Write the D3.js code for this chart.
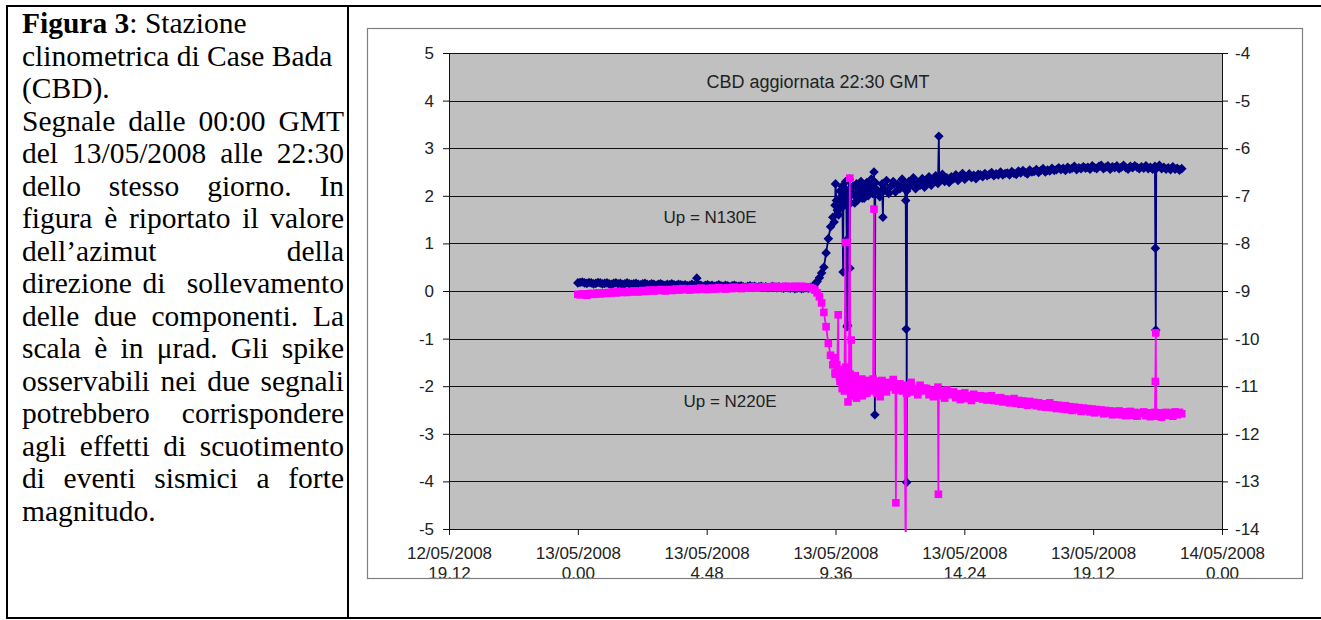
<!DOCTYPE html>
<html>
<head>
<meta charset="utf-8">
<title>CBD clinometro</title>
<script src="https://cdn.jsdelivr.net/npm/d3@7"></script>
<style>
    body {
        margin: 0;
        padding: 0;
        width: 1321px;
        height: 620px;
        background: #fff;
        overflow: hidden;
    }

    #chart {
        position: absolute;
        left: 0;
        top: 0;
    }

    #caption {
        position: absolute;
        left: 22px;
        top: 7px;
        width: 322px;
        font-family: "Liberation Serif", "Times New Roman", serif;
        font-size: 29.5px;
        line-height: 32.5px;
        color: #000;
    }

    #caption div {
        white-space: nowrap;
    }

    #caption .j {
        text-align: justify;
        text-align-last: justify;
        white-space: normal;
    }

    svg text {
        font-family: "Liberation Sans", Arial, sans-serif;
        fill: #222;
    }
</style>
</head>
<body>
<svg id="chart" width="1321" height="620"></svg>
<div id="caption"></div>

<script>
    // ---- data (minutes from 13/05/2008 00:00 GMT) ----
    var baseStartMin = 0;
    var baseStepMin = 5;

    // Up = N130E, one value every 5 minutes (one row = one hour)
    var n130eValues = [
        0.17, 0.18, 0.19, 0.17, 0.16, 0.18, 0.17, 0.15, 0.16, 0.18, 0.17, 0.15,
        0.16, 0.17, 0.15, 0.14, 0.16, 0.17, 0.15, 0.16, 0.14, 0.15, 0.17, 0.15,
        0.14, 0.15, 0.16, 0.14, 0.13, 0.15, 0.16, 0.14, 0.13, 0.15, 0.14, 0.12,
        0.14, 0.15, 0.13, 0.12, 0.14, 0.13, 0.15, 0.13, 0.12, 0.14, 0.13, 0.12,
        0.13, 0.11, 0.12, 0.14, 0.12, 0.11, 0.13, 0.12, 0.10, 0.12, 0.13, 0.11,
        0.12, 0.10, 0.11, 0.13, 0.11, 0.10, 0.12, 0.11, 0.09, 0.11, 0.12, 0.10,
        0.10, 0.11, 0.09, 0.08, 0.10, 0.11, 0.09, 0.10, 0.08, 0.09, 0.10, 0.08,
        0.09, 0.07, 0.08, 0.10, 0.08, 0.07, 0.09, 0.07, 0.06, 0.08, 0.07, 0.06,
        0.07, 0.05, 0.06, 0.07, 0.05, 0.06, 0.07, 0.06, 0.08, 0.10, 0.14, 0.20,
        0.28, 0.38, 0.50, 0.80, 1.10, 1.35, 1.55, 1.80, 1.70, 1.95, 1.80, 2.05,
        1.92, 2.12, 1.85, 2.20, 2.00, 1.90, 2.18, 2.05, 1.95, 2.25, 2.02, 2.15,
        2.05, 2.28, 2.10, 1.98, 2.25, 2.12, 2.32, 2.05, 2.20, 2.30, 2.08, 2.24,
        2.15, 2.35, 2.20, 2.10, 2.30, 2.25, 2.38, 2.15, 2.28, 2.22, 2.36, 2.18,
        2.28, 2.40, 2.22, 2.35, 2.42, 2.26, 2.33, 2.45, 2.30, 2.38, 2.28, 2.40,
        2.36, 2.44, 2.32, 2.42, 2.47, 2.35, 2.40, 2.46, 2.38, 2.43, 2.36, 2.45,
        2.44, 2.40, 2.47, 2.42, 2.45, 2.49, 2.42, 2.46, 2.44, 2.50, 2.44, 2.47,
        2.48, 2.44, 2.51, 2.47, 2.45, 2.52, 2.48, 2.53, 2.49, 2.46, 2.54, 2.50,
        2.51, 2.55, 2.49, 2.53, 2.57, 2.50, 2.54, 2.52, 2.58, 2.53, 2.55, 2.59,
        2.55, 2.58, 2.53, 2.60, 2.56, 2.58, 2.62, 2.55, 2.59, 2.57, 2.61, 2.58,
        2.60, 2.56, 2.63, 2.59, 2.57, 2.62, 2.64, 2.57, 2.60, 2.63, 2.56, 2.61,
        2.59, 2.63, 2.57, 2.60, 2.64, 2.59, 2.56, 2.62, 2.59, 2.63, 2.60, 2.57,
        2.61, 2.58, 2.63, 2.57, 2.60, 2.56, 2.62, 2.59, 2.64, 2.57, 2.60, 2.56,
        2.59, 2.55, 2.61, 2.56, 2.58, 2.54, 2.57
    ];

    // Up = N220E, one value every 5 minutes (one row = one hour)
    var n220eValues = [
        -0.07, -0.08, -0.06, -0.07, -0.09, -0.06, -0.05, -0.07, -0.06, -0.04, -0.06, -0.05,
        -0.04, -0.05, -0.03, -0.04, -0.02, -0.04, -0.03, -0.01, -0.03, -0.02, -0.03, -0.01,
        -0.02, 0.00, -0.01, -0.02, 0.00, 0.01, -0.01, 0.00, 0.02, 0.01, 0.00, 0.02,
        0.01, 0.03, 0.02, 0.00, 0.02, 0.03, 0.01, 0.03, 0.04, 0.02, 0.03, 0.05,
        0.03, 0.04, 0.02, 0.05, 0.04, 0.03, 0.05, 0.06, 0.04, 0.05, 0.03, 0.05,
        0.06, 0.04, 0.05, 0.07, 0.05, 0.06, 0.04, 0.06, 0.07, 0.05, 0.08, 0.06,
        0.07, 0.05, 0.07, 0.08, 0.06, 0.07, 0.09, 0.07, 0.06, 0.08, 0.07, 0.09,
        0.08, 0.07, 0.09, 0.08, 0.10, 0.08, 0.07, 0.09, 0.08, 0.10, 0.09, 0.08,
        0.09, 0.10, 0.08, 0.09, 0.10, 0.08, 0.09, 0.08, 0.07, 0.05, 0.02, -0.04,
        -0.12, -0.25, -0.45, -0.75, -1.10, -1.35, -1.55, -1.72, -1.65, -1.80, -1.75, -1.85,
        -1.80, -1.98, -1.85, -2.05, -1.78, -1.95, -2.08, -1.85, -1.92, -2.10, -1.88, -1.98,
        -1.85, -2.05, -1.90, -2.10, -1.88, -1.98, -2.12, -1.92, -2.02, -1.86, -2.08, -1.95,
        -1.95, -2.10, -1.98, -2.15, -2.02, -1.92, -2.12, -2.05, -2.18, -1.98, -2.10, -2.04,
        -2.05, -2.18, -2.08, -2.22, -2.10, -2.02, -2.20, -2.12, -2.25, -2.08, -2.18, -2.14,
        -2.12, -2.24, -2.16, -2.28, -2.18, -2.14, -2.26, -2.20, -2.30, -2.17, -2.25, -2.22,
        -2.20, -2.27, -2.21, -2.29, -2.24, -2.20, -2.30, -2.25, -2.31, -2.24, -2.33, -2.27,
        -2.28, -2.35, -2.29, -2.26, -2.36, -2.30, -2.38, -2.31, -2.36, -2.40, -2.32, -2.38,
        -2.34, -2.41, -2.35, -2.43, -2.37, -2.44, -2.38, -2.35, -2.45, -2.39, -2.47, -2.40,
        -2.42, -2.48, -2.41, -2.49, -2.43, -2.51, -2.44, -2.49, -2.45, -2.53, -2.46, -2.51,
        -2.47, -2.54, -2.48, -2.56, -2.49, -2.54, -2.50, -2.58, -2.51, -2.56, -2.52, -2.60,
        -2.53, -2.59, -2.52, -2.60, -2.54, -2.62, -2.55, -2.53, -2.61, -2.55, -2.63, -2.56,
        -2.57, -2.54, -2.62, -2.56, -2.64, -2.57, -2.55, -2.63, -2.56, -2.65, -2.58, -2.55,
        -2.61, -2.56, -2.63, -2.54, -2.60, -2.55, -2.58
    ];

    // extra samples and spikes between the 5-minute values [minute, value]
    var n130eExtra = [
        [266, 0.27],
        [573, 1.45], [576, 2.25], [578, 1.90], [583, 1.60], [586, 2.10], [588, 1.75],
        [591, 2.20], [593, 0.40], [594, 1.95], [596, 1.80], [599, 2.30],
        [601, 1.07], [602, -0.75], [603, -0.72], [604, 1.90],
        [607, 2.35], [608, 0.48], [609, 2.00],
        [613, 2.05], [616, 2.20], [619, 1.85], [623, 2.25], [626, 2.00], [629, 2.15],
        [633, 2.30], [636, 1.95], [639, 2.20], [643, 2.10], [646, 2.28], [649, 2.00],
        [653, 2.20], [656, 2.35], [659, 2.05],
        [662, 2.50], [663, 2.10], [664, -2.60], [666, 2.15],
        [682, 1.55], [683, 2.15],
        [733, 1.90], [734, -0.80], [735, -4.02], [736, 2.15],
        [807, 3.25], [808, 2.33],
        [1291, 0.90], [1292, -0.82], [1293, 2.58]
    ];

    var n220eExtra = [
        [573, -1.40], [576, -1.75], [579, -1.55],
        [582, -0.50], [583, -1.70],
        [586, -1.90], [588, -1.65], [591, -2.05], [594, -1.80], [596, -2.10],
        [598, 1.02], [599, -1.60],
        [602, -1.90], [604, -2.33], [606, -2.00],
        [608, 2.37], [609, -1.75],
        [611, -1.03], [612, -2.20],
        [614, -1.85], [616, -2.10], [619, -1.95], [623, -2.25], [626, -1.90], [629, -2.05],
        [633, -1.95], [636, -2.20], [639, -1.90], [643, -2.00], [646, -2.15], [649, -1.95],
        [653, -2.05], [656, -1.90], [659, -2.10],
        [662, 1.72], [663, -1.90],
        [666, -2.00], [669, -2.15], [673, -1.95], [676, -2.22],
        [711, -4.45], [712, -2.00],
        [733, -5.60], [734, -2.05],
        [806, -4.27], [807, -2.10],
        [1291, -1.90], [1292, -0.88], [1293, -2.57]
    ];

    var leftTicks = [-5, -4, -3, -2, -1, 0, 1, 2, 3, 4, 5];
    var rightTicks = [-14, -13, -12, -11, -10, -9, -8, -7, -6, -5, -4];
    var xTickTimes = [
        "2008-05-12T19:12", "2008-05-13T00:00", "2008-05-13T04:48", "2008-05-13T09:36",
        "2008-05-13T14:24", "2008-05-13T19:12", "2008-05-14T00:00"
    ];

    var captionLines = [
        { html: "<b>Figura 3</b>: Stazione", justify: false },
        { html: "clinometrica di Case Bada", justify: false },
        { html: "(CBD).", justify: false },
        { html: "Segnale dalle 00:00 GMT", justify: true },
        { html: "del 13/05/2008 alle 22:30", justify: true },
        { html: "dello stesso giorno. In", justify: true },
        { html: "figura è riportato il valore", justify: true },
        { html: "dell’azimut della", justify: true },
        { html: "direzione di&nbsp; sollevamento", justify: true },
        { html: "delle due componenti. La", justify: true },
        { html: "scala è in μrad. Gli spike", justify: true },
        { html: "osservabili nei due segnali", justify: true },
        { html: "potrebbero corrispondere", justify: true },
        { html: "agli effetti di scuotimento", justify: true },
        { html: "di eventi sismici a forte", justify: true },
        { html: "magnitudo.", justify: false }
    ];

    // ---- caption ----
    d3.select("#caption").selectAll("div")
        .data(captionLines)
        .enter()
        .append("div")
        .attr("class", function(d) { return d.justify ? "j" : null; })
        .html(function(d) { return d.html; });

    // ---- layout ----
    var PLOT = { left: 449, top: 53, right: 1222, bottom: 529 };
    var START = Date.UTC(2008, 4, 13, 0, 0);

    function buildSeries(values, extra) {
        var pts = values.map(function(v, i) {
            return { t: new Date(START + (baseStartMin + i * baseStepMin) * 60000), v: v };
        });
        extra.forEach(function(s) {
            pts.push({ t: new Date(START + s[0] * 60000), v: s[1] });
        });
        pts.sort(function(a, b) { return a.t - b.t; });
        return pts;
    }

    var n130e = buildSeries(n130eValues, n130eExtra);
    var n220e = buildSeries(n220eValues, n220eExtra);

    var parseTime = d3.utcParse("%Y-%m-%dT%H:%M");
    var xTicks = xTickTimes.map(parseTime);

    var x = d3.scaleUtc()
        .domain([xTicks[0], xTicks[xTicks.length - 1]])
        .range([PLOT.left, PLOT.right]);
    var y = d3.scaleLinear().domain([-5, 5]).range([PLOT.bottom, PLOT.top]);
    var yRight = d3.scaleLinear().domain([-14, -4]).range([PLOT.bottom, PLOT.top]);

    var svg = d3.select("#chart");

    // page table lines
    var frame = svg.append("g").attr("stroke", "#000").attr("stroke-width", 2);
    frame.append("line").attr("x1", 6).attr("x2", 1321).attr("y1", 6).attr("y2", 6);
    frame.append("line").attr("x1", 6).attr("x2", 1321).attr("y1", 618).attr("y2", 618);
    frame.append("line").attr("x1", 7).attr("x2", 7).attr("y1", 5).attr("y2", 619);
    frame.append("line").attr("x1", 348).attr("x2", 348).attr("y1", 5).attr("y2", 619);

    // plot area
    svg.append("rect")
        .attr("x", PLOT.left).attr("y", PLOT.top)
        .attr("width", PLOT.right - PLOT.left).attr("height", PLOT.bottom - PLOT.top)
        .attr("fill", "#c0c0c0");

    svg.append("g")
        .selectAll("line")
        .data(leftTicks)
        .enter()
        .append("line")
        .attr("x1", PLOT.left).attr("x2", PLOT.right)
        .attr("y1", function(d) { return Math.round(y(d)) + 0.5; })
        .attr("y2", function(d) { return Math.round(y(d)) + 0.5; })
        .attr("stroke", "#111")
        .attr("stroke-width", 1);

    function styleAxis(g) {
        g.selectAll(".domain").attr("stroke", "#111");
        g.selectAll(".tick line").attr("stroke", "#111");
        g.selectAll(".tick text").attr("font-size", 17).attr("fill", "#222")
            .attr("font-family", "Liberation Sans, Arial, sans-serif");
    }

    function plainNumber(d) { return String(d); }

    svg.append("g")
        .attr("transform", "translate(" + PLOT.left + ",0)")
        .call(d3.axisLeft(y).tickValues(leftTicks).tickSize(6).tickSizeOuter(0).tickPadding(9)
            .tickFormat(plainNumber))
        .call(styleAxis);

    svg.append("g")
        .attr("transform", "translate(" + PLOT.right + ",0)")
        .call(d3.axisRight(yRight).tickValues(rightTicks).tickSize(6).tickSizeOuter(0).tickPadding(7)
            .tickFormat(plainNumber))
        .call(styleAxis);

    var fmtDate = d3.utcFormat("%d/%m/%Y");
    function fmtHour(d) {
        return d.getUTCHours() + "." + d3.format("02d")(d.getUTCMinutes());
    }

    svg.append("g")
        .attr("transform", "translate(0," + PLOT.bottom + ")")
        .call(d3.axisBottom(x).tickValues(xTicks).tickSize(6).tickSizeOuter(0).tickFormat(""))
        .call(styleAxis)
        .call(function(g) {
            g.selectAll(".tick").append("text")
                .attr("text-anchor", "middle")
                .attr("font-size", 17)
                .attr("fill", "#222")
                .each(function(d) {
                    var t = d3.select(this);
                    t.append("tspan").attr("x", 0).attr("y", 30).text(fmtDate(d));
                    t.append("tspan").attr("x", 0).attr("y", 50).text(fmtHour(d));
                });
        });

    // series
    svg.append("clipPath").attr("id", "plotClip")
        .append("rect")
        .attr("x", PLOT.left).attr("y", PLOT.top - 1)
        .attr("width", PLOT.right - PLOT.left).attr("height", PLOT.bottom - PLOT.top + 4);

    var plot = svg.append("g").attr("clip-path", "url(#plotClip)");

    var line = d3.line()
        .x(function(d) { return x(d.t); })
        .y(function(d) { return y(d.v); });

    function drawSeries(data, color, symbolType, size, rotate) {
        plot.append("path")
            .datum(data)
            .attr("d", line)
            .attr("fill", "none")
            .attr("stroke", color)
            .attr("stroke-width", 1.8);
        plot.append("g")
            .selectAll("path")
            .data(data.filter(function(d) { return d.v >= -5 && d.v <= 5; }))
            .enter()
            .append("path")
            .attr("d", d3.symbol().type(symbolType).size(size))
            .attr("transform", function(d) {
                return "translate(" + x(d.t) + "," + y(d.v) + ") rotate(" + rotate + ")";
            })
            .attr("fill", color);
    }

    drawSeries(n130e, "#000080", d3.symbolSquare, 46, 45);
    drawSeries(n220e, "#ff00ff", d3.symbolSquare, 58, 0);

    // texts in plot
    svg.append("text").attr("x", 818).attr("y", 88).attr("text-anchor", "middle")
        .attr("font-size", 18).text("CBD aggiornata 22:30 GMT");
    svg.append("text").attr("x", 710).attr("y", 223).attr("text-anchor", "middle")
        .attr("font-size", 17).text("Up = N130E");
    svg.append("text").attr("x", 730).attr("y", 407).attr("text-anchor", "middle")
        .attr("font-size", 17).text("Up = N220E");

    // chart area border (drawn last, crosses the bottom labels like the original)
    svg.append("rect")
        .attr("x", 367.5).attr("y", 28.5)
        .attr("width", 935).attr("height", 550)
        .attr("fill", "none")
        .attr("stroke", "#808080")
        .attr("stroke-width", 1.2);
</script>
</body>
</html>
